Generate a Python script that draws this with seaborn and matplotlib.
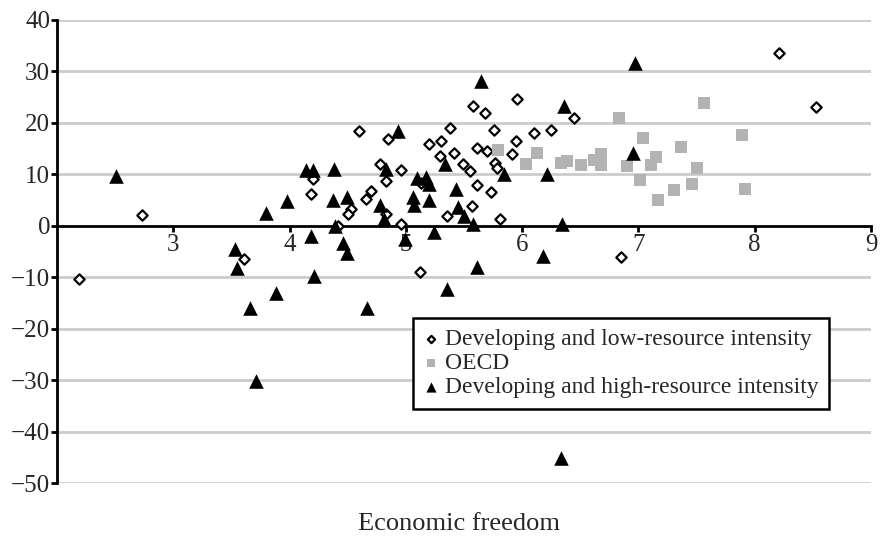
import matplotlib
matplotlib.use("Agg")
import matplotlib.pyplot as plt
import seaborn as sns
import pandas as pd

# Developing and low-resource intensity (diamonds)
low_x = [2.19, 2.73, 3.61, 4.60, 4.85, 5.58, 5.68, 5.96, 6.45, 5.38, 5.76, 5.95, 6.10, 6.25,
         5.20, 5.30, 5.29, 5.41, 5.61, 5.70, 5.91, 5.49, 5.55, 5.77, 5.78, 4.78, 4.96, 4.83,
         4.20, 4.18, 4.70, 4.66, 4.53, 4.50, 4.83, 4.42, 4.96, 5.61, 5.73, 5.57, 5.35, 5.81,
         5.12, 5.13, 6.85, 8.21, 8.53]
low_y = [-10.3, 2.1, -6.5, 18.4, 16.9, 23.3, 21.9, 24.6, 21.0, 19.0, 18.6, 16.5, 18.0, 18.6,
         15.8, 16.4, 13.5, 14.2, 15.1, 14.5, 14.0, 12.0, 10.7, 12.3, 11.2, 12.0, 10.8, 8.7,
         9.0, 6.1, 6.8, 5.3, 3.2, 2.2, 2.2, 0.0, 0.3, 7.9, 6.6, 3.8, 1.9, 1.4,
         -8.9, 8.3, -6.1, 33.6, 23.1]

# OECD (grey squares)
oecd_x = [5.79, 6.03, 6.13, 6.33, 6.39, 6.51, 6.62, 6.68, 6.68, 6.83, 6.90, 7.01, 7.04, 7.11,
          7.15, 7.17, 7.31, 7.37, 7.46, 7.50, 7.56, 7.89, 7.92]
oecd_y = [14.7, 12.0, 14.1, 12.3, 12.5, 11.8, 12.8, 14.0, 11.8, 21.0, 11.6, 8.9, 17.1, 11.8,
          13.4, 5.0, 7.0, 15.3, 8.1, 11.3, 23.9, 17.6, 7.1]

# Developing and high-resource intensity (triangles)
high_x = [2.51, 3.80, 3.98, 3.53, 3.55, 3.66, 3.88, 3.71, 4.18, 4.21, 4.46, 4.49, 4.67, 4.99,
          5.24, 5.35, 5.61, 6.18, 6.33, 5.58, 5.65, 4.93, 6.36, 5.34, 5.84, 6.21, 4.14, 4.20,
          4.38, 4.83, 5.10, 5.17, 5.20, 5.43, 5.06, 5.07, 5.20, 4.37, 4.49, 4.78, 4.81, 5.45,
          5.50, 4.39, 6.34, 6.97, 6.95]
high_y = [9.6, 2.5, 4.8, -4.5, -8.3, -15.9, -13.1, -30.2, -2.0, -9.8, -3.3, -5.2, -15.9, -2.5,
          -1.2, -12.2, -8.1, -5.9, -45.2, 0.3, 28.1, 18.5, 23.2, 12.1, 10.0, 10.1, 10.8, 10.8,
          11.0, 11.0, 9.3, 9.5, 8.1, 7.1, 5.5, 4.0, 5.0, 5.0, 5.5, 4.0, 1.3, 3.6,
          1.9, 0.0, 0.3, 31.7, 14.2]

labels = ["Developing and low-resource intensity", "OECD",
          "Developing and high-resource intensity"]
x_ticks = [3, 4, 5, 6, 7, 8, 9]
y_ticks = [-50, -40, -30, -20, -10, 0, 10, 20, 30, 40]

df_low = pd.DataFrame({"x": low_x, "y": low_y})
df_oecd = pd.DataFrame({"x": oecd_x, "y": oecd_y})
df_high = pd.DataFrame({"x": high_x, "y": high_y})

sns.set_theme(style="white")
plt.rcParams["font.family"] = ["Liberation Serif", "DejaVu Serif"]

fig = plt.figure(figsize=(8.81, 5.39), dpi=100)
ax = fig.add_axes([57 / 881, 1 - 483 / 539, 814 / 881, 463 / 539])

sns.scatterplot(data=df_low, x="x", y="y", ax=ax, marker="D", s=28, color="white",
                edgecolor="black", linewidth=1.6, label=labels[0], zorder=3)
sns.scatterplot(data=df_oecd, x="x", y="y", ax=ax, marker="s", s=75, color="#b3b3b3",
                edgecolor="#b3b3b3", linewidth=0, label=labels[1], zorder=3)
sns.scatterplot(data=df_high, x="x", y="y", ax=ax, marker="^", s=110, color="black",
                edgecolor="black", linewidth=0, label=labels[2], zorder=4)

ax.set_xlim(2, 9)
ax.set_ylim(-50, 40)
ax.set_xticks(x_ticks)
ax.set_yticks(y_ticks)
ax.set_xlabel("")
ax.set_ylabel("")

for yv in y_ticks:
    if yv != 0:
        ax.axhline(yv, color="#cccccc", lw=2, zorder=1)

for side in ["top", "right"]:
    ax.spines[side].set_visible(False)
ax.spines["left"].set_color("black")
ax.spines["left"].set_linewidth(2)
ax.spines["bottom"].set_color("black")
ax.spines["bottom"].set_linewidth(2)
ax.spines["bottom"].set_position(("data", 0))
ax.spines["bottom"].set_zorder(2)

ax.tick_params(axis="y", which="major", direction="out", length=4, width=2,
               color="black", labelsize=18, pad=1, left=True)
ax.tick_params(axis="x", which="major", direction="out", length=4, width=2,
               color="black", labelsize=18, pad=2, bottom=True)

fig.text(459 / 881, 1 - 524 / 539, "Economic freedom", ha="center", va="center",
         fontsize=19)

leg = ax.legend(loc="upper left", bbox_to_anchor=((413 - 57) / 814, (483 - 318) / 463),
                frameon=True, fancybox=False, fontsize=17, handlelength=0.6,
                handletextpad=0.3, labelspacing=0.1, borderpad=0.45, markerscale=0.7,
                borderaxespad=0)
leg.get_frame().set_edgecolor("black")
leg.get_frame().set_linewidth(1.8)
leg.get_frame().set_facecolor("white")
leg.get_frame().set_alpha(1)

fig.savefig("out.png", dpi=100)
